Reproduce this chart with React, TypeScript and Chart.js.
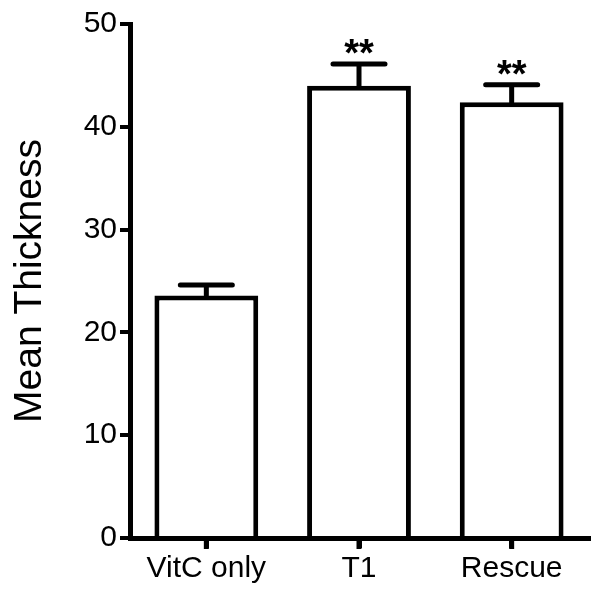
import React, { useEffect, useRef } from "react";
import { Chart, registerables } from "chart.js";

Chart.register(...registerables);

const categories = ["VitC only", "T1", "Rescue"];
const means = [23.6, 44.0, 42.4];
const errors = [1.0, 2.1, 1.7];
const significance = ["", "**", "**"];
const yTicks = [0, 10, 20, 30, 40, 50];

const FONT = "'Liberation Sans', Arial, sans-serif";

const errorBarPlugin = {
  id: "errorBars",
  afterDatasetsDraw(chart: any) {
    const ctx = chart.ctx;
    const meta = chart.getDatasetMeta(0);
    const y = chart.scales.y;
    ctx.save();
    ctx.strokeStyle = "#000";
    ctx.lineWidth = 5;
    ctx.lineCap = "round";
    meta.data.forEach((bar: any, i: number) => {
      const x = bar.x;
      const top = y.getPixelForValue(means[i]);
      const hi = y.getPixelForValue(means[i] + errors[i]);
      const half = 26;
      ctx.beginPath();
      ctx.moveTo(x, top);
      ctx.lineTo(x, hi);
      ctx.moveTo(x - half, hi);
      ctx.lineTo(x + half, hi);
      ctx.stroke();
      if (significance[i]) {
        ctx.fillStyle = "#000";
        ctx.font = `bold 38px ${FONT}`;
        ctx.textAlign = "center";
        ctx.textBaseline = "alphabetic";
        ctx.fillText(significance[i], x, hi + 2);
      }
    });
    ctx.restore();
  },
  afterDraw(chart: any) {
    const ctx = chart.ctx;
    const xs = chart.scales.x;
    const bottom = chart.chartArea.bottom;
    ctx.save();
    ctx.strokeStyle = "#000";
    ctx.lineWidth = 5;
    ctx.lineCap = "butt";
    categories.forEach((_, i) => {
      const px = xs.getPixelForTick(i);
      ctx.beginPath();
      ctx.moveTo(px, bottom);
      ctx.lineTo(px, bottom + 11);
      ctx.stroke();
    });
    ctx.restore();
  },
};

export default function App() {
  const ref = useRef<HTMLCanvasElement>(null);
  useEffect(() => {
    document.body.style.margin = "0";
    const chart = new Chart(ref.current!, {
      type: "bar",
      data: {
        labels: categories,
        datasets: [
          {
            data: means,
            backgroundColor: "#fff",
            borderColor: "#000",
            borderWidth: 5,
            categoryPercentage: 0.68,
            barPercentage: 1,
          },
        ],
      },
      options: {
        responsive: false,
        animation: false,
        layout: { padding: { top: 24, right: 12, left: 0, bottom: 0 } },
        plugins: { legend: { display: false }, tooltip: { enabled: false } },
        scales: {
          x: {
            grid: {
              offset: false,
              drawOnChartArea: false,
              drawTicks: true,
              tickLength: 10,
              lineWidth: 5,
              color: "#000",
            },
            border: { display: true, width: 5, color: "#000" },
            ticks: {
              color: "#000",
              font: { family: FONT, size: 30 },
              padding: 3,
            },
            afterFit: (s: any) => {
              s.height = 56;
            },
          },
          y: {
            min: 0,
            max: 50,
            afterBuildTicks: (s: any) => {
              s.ticks = yTicks.map((v) => ({ value: v }));
            },
            grid: {
              drawOnChartArea: false,
              drawTicks: true,
              tickLength: 10,
              lineWidth: 4,
              color: "#000",
            },
            border: { display: true, width: 5, color: "#000" },
            ticks: {
              color: "#000",
              font: { family: FONT, size: 30 },
              padding: 3,
            },
            title: {
              display: true,
              text: "Mean Thickness",
              color: "#000",
              font: { family: FONT, size: 39 },
              padding: { top: 7, bottom: 0 },
            },
            afterFit: (s: any) => {
              s.width = 130;
            },
          },
        },
      },
      plugins: [errorBarPlugin],
    });
    return () => chart.destroy();
  }, []);
  return <canvas ref={ref} width={600} height={594} />;
}
